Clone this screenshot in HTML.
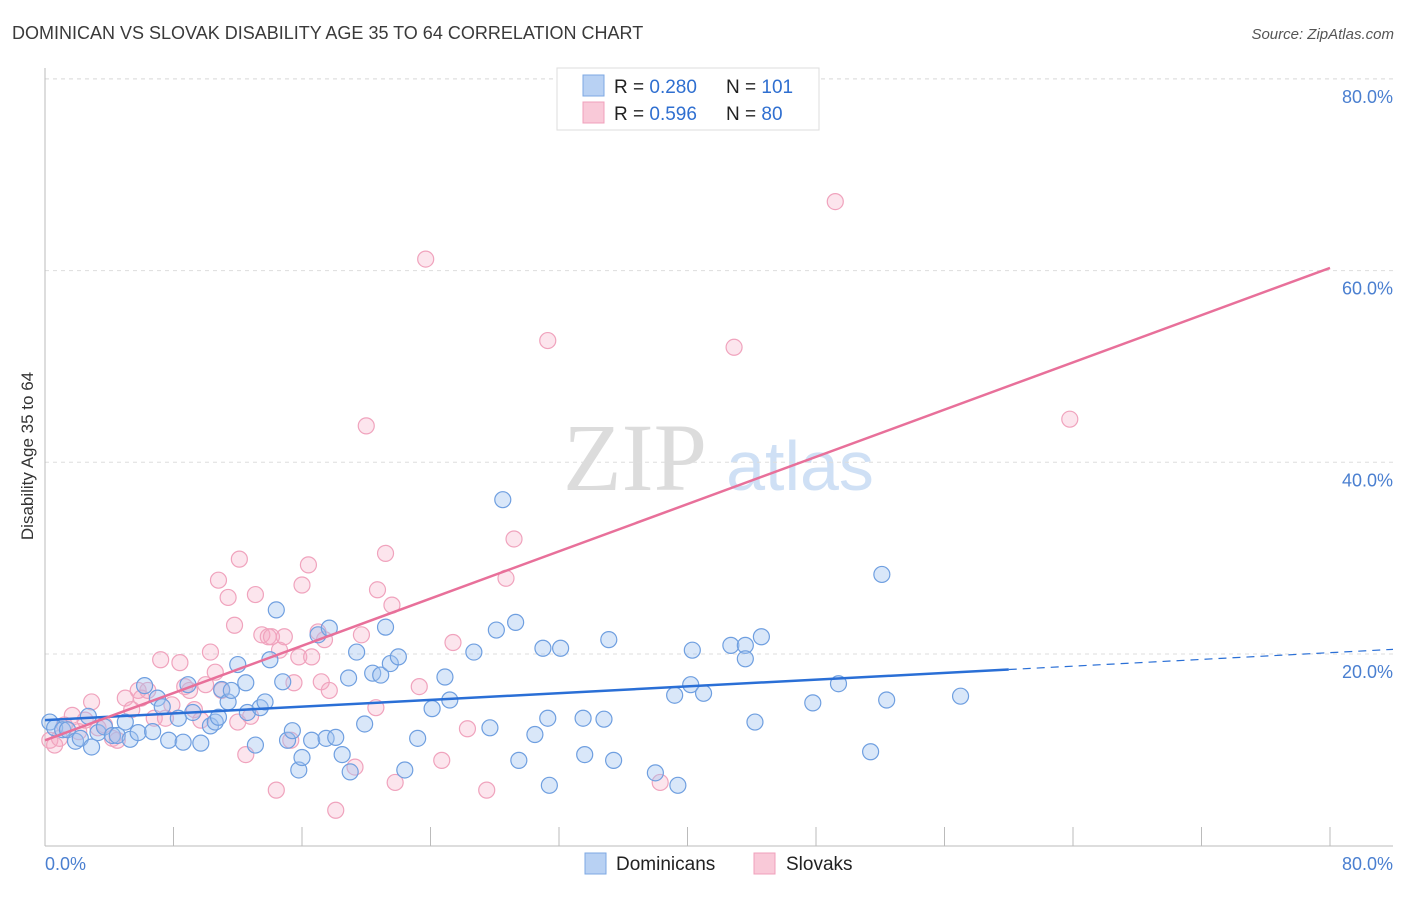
<!DOCTYPE html>
<html><head><meta charset="utf-8"><style>
body{margin:0;background:#fff;font-family:"Liberation Sans",sans-serif;}
svg text{font-family:"Liberation Sans",sans-serif;}
</style></head><body>
<svg id="chart" width="1406" height="892" xmlns="http://www.w3.org/2000/svg">
<text x="12" y="39" font-size="18" fill="#3a3a3a">DOMINICAN VS SLOVAK DISABILITY AGE 35 TO 64 CORRELATION CHART</text>
<text x="1394" y="39" font-size="15" font-style="italic" fill="#555" text-anchor="end">Source: ZipAtlas.com</text>
<g>
<text x="635" y="490" font-size="96" font-family="Liberation Serif" fill="#dcdcdc" text-anchor="middle" style="font-family:'Liberation Serif',serif">ZIP</text>
<text x="800" y="490" font-size="70" fill="#cfe0f5" text-anchor="middle">atlas</text>
</g>
<g id="grid"></g>
<g id="axes"></g>
<g id="pts"></g>
<g id="lines"></g>
<text transform="translate(33,456) rotate(-90)" font-size="17" fill="#333" text-anchor="middle">Disability Age 35 to 64</text>
<g>
<rect x="557" y="68" width="262" height="62" fill="#fff" stroke="#ddd"/>
<rect x="583" y="75" width="21" height="21" fill="#b8d1f3" stroke="#7ea8e3"/>
<rect x="583" y="102" width="21" height="21" fill="#f9c9d8" stroke="#f0a0bb"/>
<text x="614" y="93" font-size="19" fill="#222">R = <tspan fill="#2f6fd0">0.280</tspan></text>
<text x="726" y="93" font-size="19" fill="#222">N = <tspan fill="#2f6fd0">101</tspan></text>
<text x="614" y="120" font-size="19" fill="#222">R = <tspan fill="#2f6fd0"> 0.596</tspan></text>
<text x="726" y="120" font-size="19" fill="#222">N = <tspan fill="#2f6fd0"> 80</tspan></text>
</g>
<g>
<rect x="585" y="853" width="21" height="21" fill="#b8d1f3" stroke="#7ea8e3"/>
<text x="616" y="870" font-size="19" fill="#222">Dominicans</text>
<rect x="754" y="853" width="21" height="21" fill="#f9c9d8" stroke="#f0a0bb"/>
<text x="786" y="870" font-size="19" fill="#222">Slovaks</text>
</g>
</svg>
<script>
const bx=[0.3,0.6,1.1,1.4,1.9,2.2,2.7,2.9,3.3,3.7,4.2,4.5,5.0,5.3,5.8,6.2,6.7,7.0,7.3,7.7,8.3,8.6,8.9,9.2,9.7,10.3,10.6,10.8,11.0,11.4,11.6,12.0,12.5,12.6,13.1,13.4,13.7,14.0,14.4,14.8,15.1,15.4,15.8,16.0,16.6,17.0,17.5,17.7,18.1,18.5,18.9,19.0,19.4,19.9,20.4,20.9,21.2,21.5,22.0,22.4,23.2,24.1,24.9,25.2,26.7,27.7,28.1,28.5,29.3,29.5,30.5,31.0,31.3,31.4,32.1,33.5,33.6,34.8,35.1,35.4,38.0,39.2,39.4,40.2,40.3,41.0,42.7,43.6,43.6,44.2,44.6,47.8,49.4,51.4,52.1,52.4,57.0];
const by=[12.9,12.3,12.1,12.1,10.9,11.2,13.5,10.3,11.8,12.4,11.5,11.5,12.9,11.1,11.8,16.7,11.9,15.4,14.5,11.0,13.3,10.8,16.8,13.9,10.7,12.5,12.9,13.4,16.3,15.0,16.2,18.9,17.0,13.9,10.5,14.4,15.0,19.4,24.6,17.1,11.0,12.0,7.9,9.2,11.0,22.0,11.2,22.7,11.3,9.5,17.5,7.7,20.2,12.7,18.0,17.8,22.8,19.0,19.7,7.9,11.2,14.3,17.6,15.2,20.2,12.3,22.5,36.1,23.3,8.9,11.6,20.6,13.3,6.3,20.6,13.3,9.5,13.2,21.5,8.9,7.6,15.7,6.3,16.8,20.4,15.9,20.9,20.9,19.5,12.9,21.8,14.9,16.9,9.8,28.3,15.2,15.6];
const px=[0.3,0.6,0.9,1.2,1.7,2.1,2.5,2.9,3.3,3.7,4.2,4.5,5.0,5.4,5.8,6.0,6.4,6.8,7.2,7.5,7.9,8.4,8.7,9.0,9.3,9.7,10.0,10.3,10.6,10.8,11.0,11.4,11.8,12.0,12.1,12.5,12.8,13.1,13.5,13.9,14.1,14.4,14.6,14.9,15.3,15.5,15.8,16.0,16.4,16.6,17.0,17.2,17.4,17.7,18.1,19.3,19.7,20.0,20.6,20.7,21.2,21.6,21.8,23.3,23.7,24.7,25.4,26.3,27.5,28.7,29.2,31.3,38.3,42.9,49.2,63.8];
const py=[11.0,10.5,11.2,12.6,13.6,11.9,13.1,15.0,12.3,12.6,11.2,11.0,15.4,14.2,16.2,15.4,16.2,13.3,19.4,13.3,14.7,19.1,16.6,16.2,14.2,13.1,16.8,20.2,18.1,27.7,16.2,25.9,23.0,12.9,29.9,9.5,13.5,26.2,22.0,21.8,21.8,5.8,20.4,21.8,11.0,17.0,19.7,27.2,29.3,19.7,22.3,17.1,21.5,16.2,3.7,8.2,22.0,43.8,14.4,26.7,30.5,25.1,6.6,16.6,61.2,8.9,21.2,12.2,5.8,27.9,32.0,52.7,6.6,52.0,67.2,44.5];
const yTicks=[20,40,60,80];
const xTicks=[0,8,16,24,32,40,48,56,64,72,80];
const blueFit=[13.1,0.088]; const pinkFit=[11.0,0.616];
const X=v=>45+v*(1285/80), Y=v=>845.7-v*(191.7/20);
const NS='http://www.w3.org/2000/svg';
function mk(t,a,p){const e=document.createElementNS(NS,t);for(const k in a)e.setAttribute(k,a[k]);p.appendChild(e);return e;}
const grid=document.getElementById('grid'),axes=document.getElementById('axes');
yTicks.forEach(t=>{
 const l=mk('line',{x1:45,x2:1393,y1:Y(t),y2:Y(t),stroke:'#ddd','stroke-dasharray':'4,4'},grid);
 
 
 const tx=mk('text',{x:1393,y:Y(t)+24,'font-size':18,fill:'#4a7fd0','text-anchor':'end'},axes);
 tx.textContent=t.toFixed(1)+'%';
 
 
});
mk('line',{x1:45,x2:1393,y1:Y(80),y2:Y(80),stroke:'#ddd','stroke-dasharray':'4,4'},grid);
mk('line',{x1:45,x2:45,y1:68,y2:846,stroke:'#bbb'},axes);
mk('line',{x1:45,x2:1393,y1:846,y2:846,stroke:'#bbb'},axes);
xTicks.forEach(t=>{const l=mk('line',{x1:X(t),x2:X(t),y1:827,y2:846,stroke:'#bbb'},axes);
 
 });
let t0=mk('text',{x:45,y:870,'font-size':18,fill:'#4a7fd0'},axes);t0.textContent='0.0%';


let t1=mk('text',{x:1393,y:870,'font-size':18,fill:'#4a7fd0','text-anchor':'end'},axes);t1.textContent='80.0%';


const pts=document.getElementById('pts');
px.forEach((v,i)=>{const c=mk('circle',{cx:X(v),cy:Y(py[i]),r:8,fill:'rgba(245,170,196,0.3)',stroke:'#f0a3bd','stroke-width':1.2},pts);
 
 });
bx.forEach((v,i)=>{const c=mk('circle',{cx:X(v),cy:Y(by[i]),r:8,fill:'rgba(160,195,240,0.4)',stroke:'#6f9fe0','stroke-width':1.2},pts);
 
 });
const lines=document.getElementById('lines');
const f=(fit,x)=>fit[0]+fit[1]*x;
let bl=mk('line',{x1:X(0),y1:Y(f(blueFit,0)),x2:X(60),y2:Y(f(blueFit,60)),stroke:'#2a6fd6','stroke-width':2.5},lines);


let bd=mk('line',{x1:X(60),y1:Y(f(blueFit,60)),x2:1393,y2:Y(f(blueFit,(1393-45)/(1285/80))),stroke:'#2a6fd6','stroke-width':1.2,'stroke-dasharray':'8,6'},lines);


let pl=mk('line',{x1:X(0),y1:Y(f(pinkFit,0)),x2:X(80),y2:Y(f(pinkFit,80)),stroke:'#e8709a','stroke-width':2.5},lines);


</script>
</body></html>
